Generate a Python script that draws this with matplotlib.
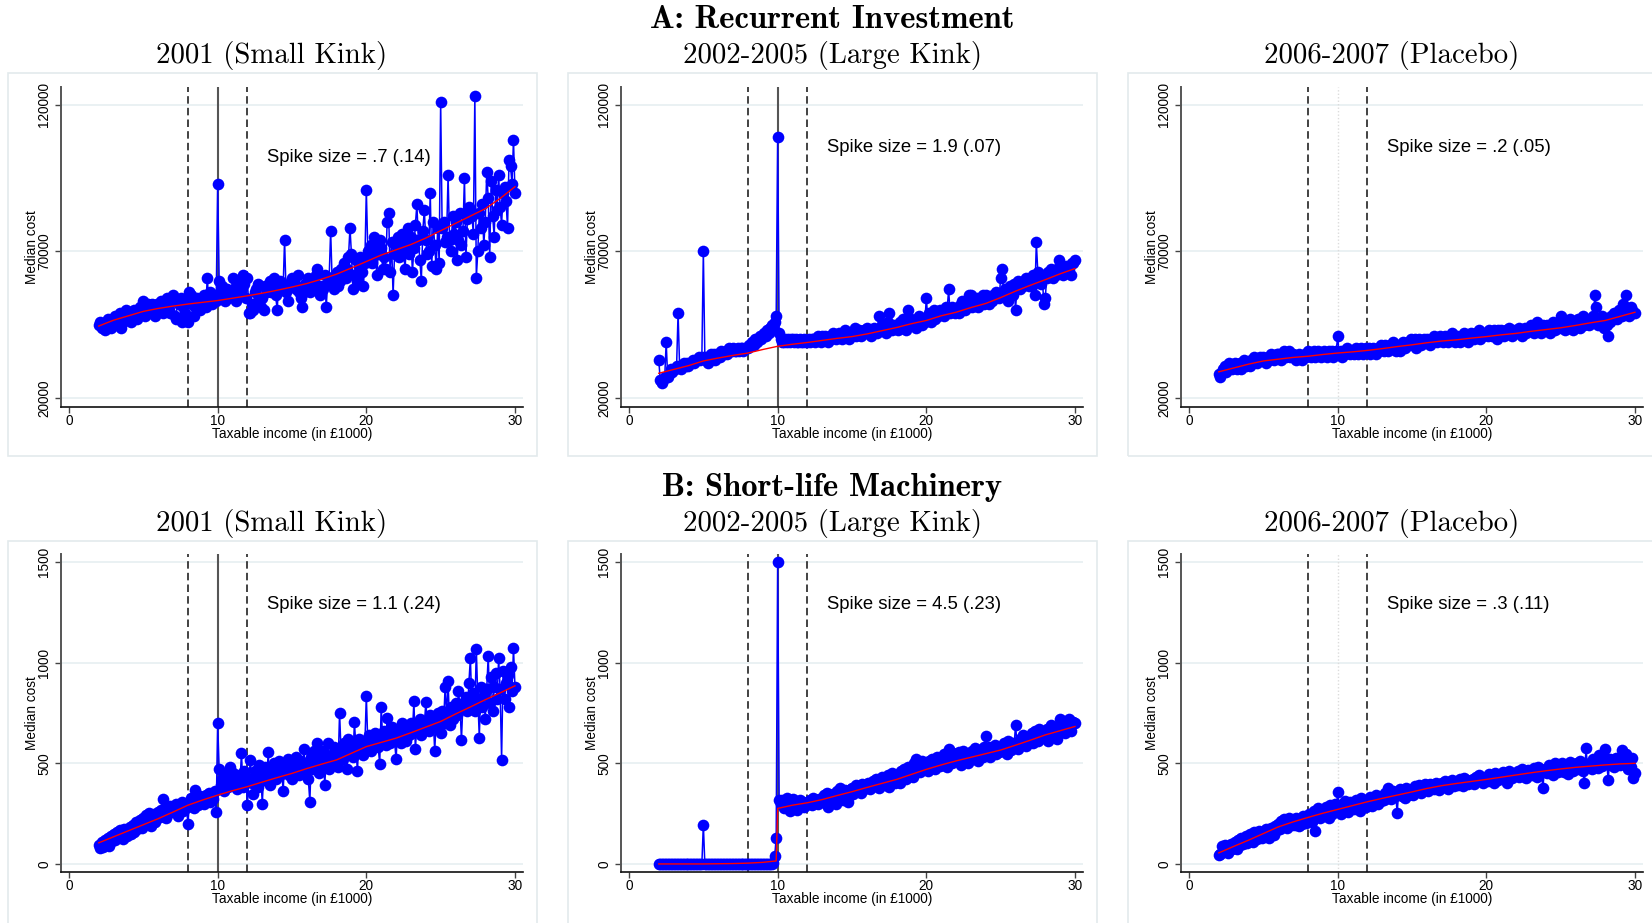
import numpy as np
import matplotlib
matplotlib.use("Agg")
import matplotlib.pyplot as plt
from matplotlib.patches import Rectangle

# bins of taxable income (in £1000), 2.0 .. 30.0
x_bins = np.arange(20, 301) / 10.0

# ---- Panel A: recurrent investment, median cost in £1000 ----
a1_cost = [
    45, 46, 44, 45, 43, 46, 47, 45, 44, 47,
    46, 48, 45, 47, 49, 44, 46, 48, 50, 47,
    47, 49, 46, 48, 50, 48, 47, 49, 51, 50,
    53, 48, 51, 52, 49, 50, 52, 51, 48, 52,
    50, 52, 53, 49, 51, 52, 54, 50, 49, 53,
    55, 48, 47, 53, 52, 54, 46, 51, 49, 53,
    46, 56, 55, 52, 48, 51, 54, 53, 50, 52,
    54, 55, 51, 61, 53, 56, 52, 54, 55, 53,
    93, 60, 56, 58, 55, 53, 57, 54, 56, 55,
    61, 57, 53, 55, 60, 58, 56, 62, 59, 54,
    61, 49, 49, 52, 50, 56, 57, 59, 54, 51,
    54, 50, 58, 56, 57, 60, 56, 58, 61, 55,
    50, 58, 60, 59, 57, 74, 56, 53, 58, 60,
    61, 58, 59, 57, 62, 56, 54, 51, 56, 59,
    58, 61, 56, 59, 57, 60, 62, 64, 58, 55,
    58, 57, 62, 51, 59, 61, 77, 60, 57, 62,
    63, 58, 60, 64, 62, 66, 61, 64, 68, 78,
    69, 57, 62, 67, 60, 65, 68, 63, 58, 66,
    91, 70, 68, 72, 66, 75, 70, 62, 69, 74,
    71, 64, 68, 64, 80, 83, 63, 73, 55, 69,
    72, 75, 68, 74, 76, 70, 64, 72, 78, 69,
    75, 63, 71, 79, 86, 74, 67, 60, 77, 84,
    74, 69, 70, 90, 65, 80, 72, 64, 78, 66,
    121, 78, 80, 73, 75, 96, 74, 70, 82, 76,
    80, 67, 74, 83, 72, 77, 95, 68, 81, 85,
    84, 82, 76, 123, 61, 70, 83, 78, 86, 72,
    80, 97, 88, 68, 94, 82, 75, 91, 84, 96,
    85, 79, 90, 92, 87, 78, 101, 99, 93, 108,
    90,
]
a2_cost = [
    33, 26, 25, 26, 27, 39, 27, 28, 30, 29,
    30, 30, 31, 49, 31, 30, 31, 32, 31, 32,
    31, 32, 32, 33, 32, 33, 33, 34, 33, 34,
    70, 34, 33, 32, 34, 35, 34, 35, 33, 35,
    35, 34, 36, 35, 35, 36, 35, 37, 36, 36,
    37, 36, 36, 37, 36, 37, 37, 36, 37, 37,
    37, 38, 38, 39, 38, 40, 39, 40, 41, 40,
    41, 42, 41, 43, 42, 44, 45, 44, 46, 48,
    109, 42, 40, 39, 39, 40, 39, 40, 39, 40,
    40, 39, 40, 39, 39, 40, 39, 39, 40, 39,
    39, 40, 39, 40, 40, 39, 40, 41, 40, 39,
    41, 40, 41, 40, 39, 41, 40, 42, 41, 40,
    41, 42, 41, 40, 42, 43, 41, 42, 40, 41,
    41, 42, 44, 41, 42, 43, 41, 42, 43, 42,
    44, 43, 42, 41, 43, 44, 43, 42, 48, 43,
    45, 43, 44, 42, 46, 49, 44, 43, 45, 44,
    45, 43, 46, 44, 47, 45, 43, 46, 50, 45,
    47, 45, 46, 44, 47, 48, 46, 45, 47, 46,
    54, 47, 49, 46, 48, 50, 47, 49, 48, 50,
    49, 50, 48, 51, 50, 57, 49, 51, 50, 49,
    50, 51, 49, 52, 53, 51, 50, 52, 53, 55,
    55, 51, 53, 52, 54, 51, 52, 53, 55, 52,
    55, 53, 52, 54, 53, 55, 54, 56, 55, 54,
    61, 64, 55, 57, 56, 53, 58, 56, 55, 59,
    50, 58, 60, 57, 59, 58, 60, 61, 59, 58,
    60, 58, 62, 55, 73, 63, 61, 59, 62, 52,
    54, 61, 63, 62, 64, 61, 63, 62, 64, 67,
    65, 63, 62, 64, 65, 63, 64, 62, 66, 66,
    67,
]
a3_cost = [
    28, 27, 29, 30, 31, 29, 30, 32, 31, 30,
    31, 32, 30, 31, 32, 30, 31, 33, 31, 32,
    32, 31, 33, 32, 34, 33, 32, 33, 34, 33,
    34, 33, 32, 34, 33, 35, 34, 33, 34, 35,
    35, 34, 33, 35, 36, 34, 35, 36, 34, 35,
    35, 34, 33, 34, 35, 34, 33, 34, 35, 34,
    36, 35, 34, 35, 36, 34, 35, 36, 35, 34,
    35, 36, 35, 34, 36, 35, 36, 34, 35, 36,
    41, 35, 36, 34, 36, 35, 37, 36, 35, 36,
    36, 35, 37, 36, 35, 36, 37, 35, 36, 37,
    36, 37, 35, 36, 37, 36, 35, 37, 36, 38,
    37, 36, 38, 37, 36, 38, 37, 39, 37, 36,
    38, 37, 36, 38, 39, 37, 38, 39, 38, 40,
    39, 38, 40, 37, 39, 40, 38, 39, 40, 39,
    40, 39, 38, 40, 39, 41, 40, 39, 40, 41,
    40, 39, 41, 40, 39, 41, 40, 42, 40, 39,
    41, 40, 39, 41, 40, 42, 41, 40, 39, 41,
    42, 41, 40, 42, 41, 43, 40, 42, 41, 42,
    42, 41, 43, 42, 41, 43, 42, 40, 43, 42,
    43, 42, 41, 43, 42, 44, 42, 41, 43, 42,
    43, 42, 44, 43, 41, 43, 44, 42, 43, 44,
    45, 43, 42, 44, 46, 43, 44, 42, 45, 44,
    44, 45, 43, 42, 44, 46, 43, 44, 45, 44,
    48, 44, 46, 43, 45, 44, 47, 45, 43, 46,
    46, 45, 47, 44, 46, 48, 45, 47, 46, 45,
    47, 46, 48, 55, 51, 45, 47, 46, 48, 44,
    47, 45, 41, 46, 48, 47, 49, 48, 47, 50,
    49, 48, 52, 50, 55, 49, 48, 51, 50, 49,
    49,
]

# ---- Panel B: short-life machinery, median cost in £ ----
b1_cost = [
    95, 80, 110, 85, 120, 100, 130, 90, 140, 115,
    150, 120, 160, 135, 170, 145, 125, 175, 155, 140,
    170, 185, 150, 195, 160, 210, 175, 190, 220, 180,
    230, 200, 245, 215, 255, 190, 235, 250, 210, 240,
    260, 235, 270, 325, 250, 230, 280, 255, 290, 265,
    285, 260, 300, 240, 290, 275, 310, 265, 295, 280,
    200, 300, 330, 310, 280, 365, 320, 295, 340, 310,
    330, 300, 345, 320, 355, 310, 340, 325, 360, 259,
    699, 470, 390, 420, 360, 400, 445, 380, 483, 410,
    450, 390, 420, 370, 440, 400, 553, 380, 460, 430,
    292, 420, 517, 400, 350, 460, 410, 380, 490, 440,
    300, 450, 480, 410, 558, 390, 470, 430, 500, 420,
    460, 510, 440, 480, 360, 500, 470, 520, 440, 490,
    420, 500, 460, 530, 480, 440, 510, 470, 570, 450,
    490, 420, 309, 530, 470, 560, 500, 603, 450, 520,
    480, 560, 390, 520, 600, 470, 540, 500, 580, 510,
    540, 480, 752, 560, 520, 600, 580, 470, 620, 550,
    600, 530, 703, 580, 460, 620, 560, 610, 540, 590,
    836, 600, 640, 560, 620, 590, 650, 610, 580, 495,
    782, 620, 660, 590, 724, 630, 600, 680, 650, 610,
    520, 660, 640, 600, 700, 630, 680, 610, 660, 640,
    700, 650, 810, 571, 690, 660, 720, 640, 700, 680,
    804, 700, 660, 740, 690, 720, 561, 710, 750, 680,
    650, 760, 700, 880, 740, 910, 690, 780, 720, 760,
    800, 740, 860, 780, 616, 800, 770, 830, 760, 900,
    1023, 790, 850, 760, 1070, 820, 628, 880, 780, 840,
    720, 870, 1035, 800, 930, 760, 880, 950, 820, 1023,
    870, 517, 960, 820, 900, 940, 780, 980, 860, 1073,
    880,
]
b2_cost = [
    0, 0, 0, 0, 0, 0, 0, 0, 0, 0,
    0, 0, 0, 0, 0, 0, 0, 0, 0, 0,
    0, 0, 0, 0, 0, 0, 0, 0, 0, 0,
    196, 0, 0, 0, 0, 0, 0, 0, 0, 0,
    0, 0, 0, 0, 0, 0, 0, 0, 0, 0,
    0, 0, 0, 0, 0, 0, 0, 0, 0, 0,
    0, 0, 0, 0, 0, 0, 0, 0, 0, 0,
    0, 0, 0, 0, 0, 0, 0, 5, 38, 131,
    1502, 317, 300, 320, 280, 310, 330, 290, 265, 310,
    325, 290, 310, 270, 300, 320, 295, 310, 285, 305,
    310, 300, 320, 295, 330, 305, 315, 300, 325, 310,
    330, 345, 310, 355, 285, 330, 320, 350, 340, 300,
    360, 330, 375, 345, 320, 365, 350, 310, 340, 370,
    375, 350, 365, 390, 360, 380, 355, 395, 370, 385,
    380, 400, 370, 390, 410, 385, 420, 395, 375, 405,
    430, 400, 390, 420, 440, 380, 410, 450, 425, 400,
    420, 445, 400, 460, 435, 470, 420, 450, 480, 440,
    460, 430, 500, 520, 470, 490, 455, 510, 480, 500,
    490, 460, 510, 480, 520, 495, 470, 530, 500, 485,
    520, 490, 545, 510, 480, 570, 530, 500, 550, 515,
    530, 510, 555, 490, 540, 560, 520, 545, 500, 550,
    540, 560, 520, 575, 545, 510, 565, 550, 530, 580,
    636, 550, 580, 530, 570, 560, 590, 545, 575, 555,
    580, 560, 600, 575, 545, 610, 590, 565, 600, 580,
    691, 600, 570, 620, 595, 640, 610, 585, 630, 600,
    620, 650, 600, 660, 630, 610, 670, 640, 625, 655,
    640, 670, 610, 660, 690, 630, 650, 680, 620, 670,
    721, 680, 710, 650, 700, 690, 720, 660, 705, 703,
    700,
]
b3_cost = [
    45, 50, 90, 60, 95, 70, 55, 80, 100, 75,
    90, 110, 75, 120, 95, 130, 100, 115, 140, 105,
    120, 150, 130, 110, 160, 140, 125, 165, 145, 130,
    160, 140, 175, 150, 130, 180, 165, 145, 190, 170,
    200, 175, 215, 190, 225, 205, 180, 230, 210, 195,
    215, 195, 230, 210, 190, 225, 200, 240, 215, 205,
    220, 250, 235, 210, 265, 163, 245, 280, 230, 255,
    270, 240, 285, 260, 230, 295, 250, 275, 300, 265,
    359, 280, 250, 300, 270, 315, 290, 260, 310, 285,
    300, 275, 320, 290, 310, 265, 330, 295, 305, 285,
    320, 300, 335, 290, 325, 310, 345, 300, 330, 315,
    340, 320, 355, 330, 375, 345, 325, 360, 335, 350,
    254, 350, 370, 340, 360, 330, 375, 345, 365, 350,
    370, 345, 385, 360, 375, 390, 355, 380, 370, 395,
    385, 360, 395, 375, 390, 370, 400, 380, 365, 395,
    400, 380, 410, 390, 370, 405, 395, 415, 385, 400,
    410, 390, 420, 405, 385, 425, 400, 415, 395, 410,
    405, 420, 395, 430, 410, 440, 415, 425, 400, 420,
    430, 410, 445, 420, 435, 400, 450, 425, 415, 440,
    430, 455, 420, 445, 400, 460, 435, 425, 450, 440,
    440, 460, 430, 455, 470, 435, 450, 425, 465, 445,
    460, 440, 475, 455, 430, 480, 450, 470, 375, 460,
    470, 450, 490, 460, 480, 440, 500, 465, 455, 485,
    470, 500, 455, 490, 475, 445, 505, 480, 460, 495,
    480, 500, 470, 510, 490, 460, 400, 575, 495, 480,
    500, 470, 520, 490, 515, 475, 540, 505, 485, 530,
    570, 500, 417, 520, 490, 510, 480, 525, 500, 515,
    490, 567, 520, 500, 545, 470, 510, 480, 525, 425,
    450,
]

# ---- fitted counterfactual (red) read at whole £1000 steps ----
fit_x = list(range(2, 31))
a1_fit = [44.5, 46.5, 48, 49.5, 50.5, 51.3, 52, 52.6, 53.2, 54, 54.8, 55.7, 56.7, 57.8,
          59, 60.5, 62.2, 64.3, 66.5, 68.7, 70.5, 72.3, 74.5, 77, 79.5, 82, 84.5, 88, 92]
a2_fit = [28.4, 29.7, 31, 32.6, 33.6, 34.5, 35.3, 36.5, 37.6, 38.3, 38.9, 39.6, 40.3, 40.9,
          41.8, 42.9, 44, 45.3, 46.4, 48, 49.2, 50.8, 52.2, 54.2, 56.4, 58.4, 60.3, 62.3, 64.1]
a3_fit = [28.9, 30.2, 31.5, 32.6, 33.2, 33.8, 34.2, 34.8, 35.3, 35.7, 36.2, 36.8, 37.5, 38.1,
          38.8, 39.4, 39.8, 40.4, 40.9, 41.5, 42, 42.7, 43.3, 43.9, 44.7, 45.6, 46.4, 47.8, 49.2]
b1_fit = [105, 135, 165, 195, 225, 258, 292, 318, 342, 364, 384, 407, 429, 450, 474, 496,
          517, 550, 583, 604, 625, 652, 680, 708, 745, 780, 816, 850, 885]
b2_fit_x = [2, 3, 4, 5, 6, 7, 8, 9, 9.9] + list(range(10, 31))
b2_fit = [0, 0, 0, 0, 1, 2, 4, 8, 15, 276, 292, 304, 320, 340, 359, 380, 400, 420, 445,
          470, 492, 512, 530, 548, 566, 590, 615, 641, 662, 683]
b3_fit = [55, 87, 118, 151, 184, 209, 231, 252, 271, 290, 309, 326, 342, 358, 375, 389,
          400, 410, 420, 431, 442, 453, 463, 472, 480, 486, 492, 497, 500]

col_titles = ["2001 (Small Kink)", "2002-2005 (Large Kink)", "2006-2007 (Placebo)"]
row_titles = ["A: Recurrent Investment", "B: Short-life Machinery"]
a_spikes = ["Spike size = .7 (.14)", "Spike size = 1.9 (.07)", "Spike size = .2 (.05)"]
b_spikes = ["Spike size = 1.1 (.24)", "Spike size = 4.5 (.23)", "Spike size = .3 (.11)"]
a_ticks = [20000, 70000, 120000]
b_ticks = [0, 500, 1000, 1500]

W, H = 1652, 923
SANS = "Liberation Sans"
plt.rcParams["font.family"] = SANS


def fx(px):
    return px / W


def fy(py):
    return 1 - py / H


def draw_panel(ax, y, fx_, fy_, ylim, yticks, placebo, spike, text_y):
    for t in yticks:
        ax.axhline(t, color="#e6eff1", lw=1.2, zorder=0)
    if placebo:
        ax.axvline(10, color="#dcdcdc", lw=1, ls=(0, (1, 1.5)), zorder=1)
    else:
        ax.axvline(10, color="#555555", lw=1.5, zorder=1)
    for k in (8, 12):
        ax.axvline(k, color="#222222", lw=1.2, ls=(0, (4.5, 2.5)), zorder=1)
    ax.plot(x_bins, y, "-", color="#0000ff", lw=1.1, zorder=2,
            marker="o", ms=8.4, mfc="#0000ff", mec="#0000ff", mew=0)
    ax.plot(fx_, fy_, "-", color="#ff0000", lw=1.0, zorder=3)
    ax.text(13.3, text_y, spike, fontsize=13.3, va="center", ha="left")
    ax.set_xlim(-0.54, 30.54)
    ax.set_ylim(*ylim)
    ax.set_xticks([0, 10, 20, 30])
    ax.set_yticks(yticks)
    ax.set_yticklabels([str(t) for t in yticks], rotation=90, va="center")
    ax.tick_params(axis="both", direction="out", length=4, width=1,
                   labelsize=9.8, color="#444444")
    ax.tick_params(axis="y", pad=3)
    ax.tick_params(axis="x", pad=1)
    for s in ("top", "right"):
        ax.spines[s].set_visible(False)
    ax.spines["left"].set_color("#555555")
    ax.spines["left"].set_linewidth(1.4)
    ax.spines["bottom"].set_color("#111111")
    ax.spines["bottom"].set_linewidth(1.2)
    ax.set_xlabel("Taxable income (in £1000)", fontsize=9.8, labelpad=-0.5)
    ax.set_ylabel("Median cost", fontsize=9.8, labelpad=-1.5)


fig = plt.figure(figsize=(W / 100, H / 100), dpi=100)

a_data = [np.array(a1_cost) * 1000, np.array(a2_cost) * 1000, np.array(a3_cost) * 1000]
a_fits = [np.array(a1_fit) * 1000, np.array(a2_fit) * 1000, np.array(a3_fit) * 1000]
b_data = [b1_cost, b2_cost, b3_cost]
b_fits = [(fit_x, b1_fit), (b2_fit_x, b2_fit), (fit_x, b3_fit)]

for i in range(3):
    off = 560 * i
    # light panel frames
    fig.patches.append(Rectangle((fx(8 + off), fy(456)), fx(529), 383 / H,
                                 transform=fig.transFigure, fill=False,
                                 ec="#e3eaec", lw=1.2))
    fig.patches.append(Rectangle((fx(8 + off), fy(940)), fx(529), 399 / H,
                                 transform=fig.transFigure, fill=False,
                                 ec="#e3eaec", lw=1.2))

    ax = fig.add_axes([fx(61 + off), fy(407), fx(462), 320 / H])
    draw_panel(ax, a_data[i], fit_x, a_fits[i], (16900, 126000), a_ticks,
               i == 2, a_spikes[i], 101800 if i == 0 else 105500)
    fig.text(fx(272 + off), fy(55), col_titles[i], family="cmr10",
             fontsize=20.8, ha="center", va="center")

    ax = fig.add_axes([fx(61 + off), fy(872), fx(462), 318 / H])
    draw_panel(ax, b_data[i], b_fits[i][0], b_fits[i][1], (-40, 1540), b_ticks,
               i == 2, b_spikes[i], 1291)
    fig.text(fx(272 + off), fy(523), col_titles[i], family="cmr10",
             fontsize=20.8, ha="center", va="center")

fig.text(fx(832), fy(20), row_titles[0], family="cmb10", fontsize=23.5,
         ha="center", va="center")
fig.text(fx(832), fy(487), row_titles[1], family="cmb10", fontsize=23.5,
         ha="center", va="center")

fig.savefig("out.png", dpi=100)
